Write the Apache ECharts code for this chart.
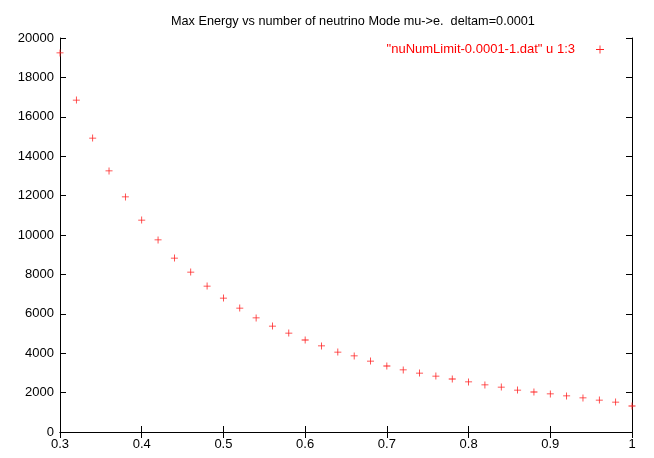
<!DOCTYPE html>
<html><head><meta charset="utf-8">
<script src="https://cdn.jsdelivr.net/npm/echarts@6/dist/echarts.min.js"></script>
<style>html,body{margin:0;padding:0;background:#fff}#c{width:654px;height:458px}</style>
</head><body><div id="c"></div>
<script>
const xValues = [0.30,0.32,0.34,0.36,0.38,0.40,0.42,0.44,0.46,0.48,0.50,0.52,0.54,0.56,0.58,0.60,0.62,0.64,0.66,0.68,0.70,0.72,0.74,0.76,0.78,0.80,0.82,0.84,0.86,0.88,0.90,0.92,0.94,0.96,0.98,1.00];
const yValues = [19240,16850,14920,13250,11930,10760,9750,8830,8120,7410,6800,6290,5790,5380,5020,4670,4370,4060,3860,3600,3350,3150,2990,2840,2690,2540,2390,2280,2130,2030,1930,1830,1730,1620,1520,1320];
const seriesName = '"nuNumLimit-0.0001-1.dat" u 1:3';
const titleText = 'Max Energy vs number of neutrino Mode mu->e.  deltam=0.0001';

const data = xValues.map((x, i) => [x, yValues[i]]);
const plus = 'path://M4.45,0 H5.55 V4.45 H10 V5.55 H5.55 V10 H4.45 V5.55 H0 V4.45 H4.45 Z';
const font = 'Liberation Sans, Arial, Helvetica, sans-serif';
const axisCommon = {
  axisLine: {show: true, lineStyle: {color: '#000', width: 1}},
  axisTick: {show: true, inside: true, length: 6, lineStyle: {color: '#000'}},
  splitLine: {show: false},
  axisLabel: {color: '#000', fontFamily: font, fontSize: 13}
};
const chart = echarts.init(document.getElementById('c'));
chart.setOption({
  animation: false,
  backgroundColor: '#fff',
  title: {text: titleText, left: 166, top: 10, textStyle: {fontFamily: font, fontSize: 12.7, fontWeight: 'normal', color: '#000'}},
  legend: {
    show: true, right: 45, top: 38, align: 'right', itemWidth: 8, itemHeight: 8, itemGap: 0,
    textStyle: {color: '#ff0000', fontFamily: font, fontSize: 13, padding: [0, 16, 0, 0]},
    data: [{name: seriesName, icon: plus}]
  },
  grid: {left: 60, right: 22, top: 38, bottom: 26, containLabel: false},
  xAxis: [
    Object.assign({}, axisCommon, {type: 'value', min: 0.3, max: 1, interval: 0.1, position: 'bottom',
      axisLabel: Object.assign({}, axisCommon.axisLabel, {margin: 6, formatter: v => String(+v.toFixed(2))})}),
    Object.assign({}, axisCommon, {type: 'value', min: 0.3, max: 1, interval: 0.1, position: 'top', axisLabel: {show: false}})
  ],
  yAxis: [
    Object.assign({}, axisCommon, {type: 'value', min: 0, max: 20000, interval: 2000, position: 'left',
      axisLabel: Object.assign({}, axisCommon.axisLabel, {margin: 6, formatter: v => String(v)})}),
    Object.assign({}, axisCommon, {type: 'value', min: 0, max: 20000, interval: 2000, position: 'right', axisLabel: {show: false}})
  ],
  series: [{
    name: seriesName, type: 'scatter', data: data, symbol: plus, symbolSize: 7,
    itemStyle: {color: '#ff2020', opacity: 1}
  }]
});
</script></body></html>
